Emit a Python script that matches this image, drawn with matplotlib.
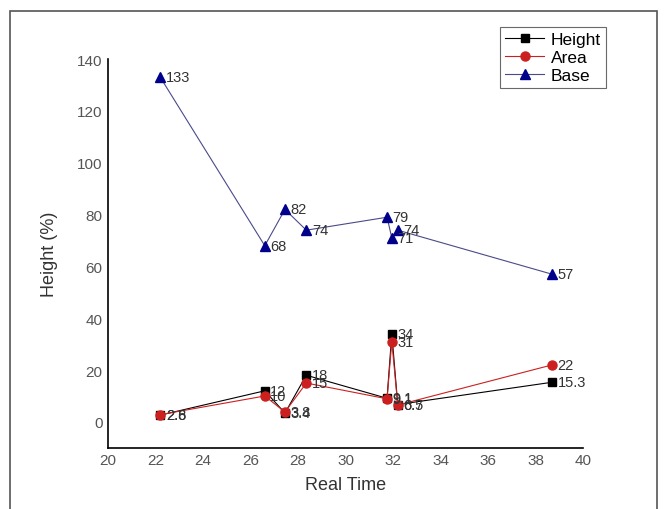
import matplotlib.pyplot as plt
from matplotlib.patches import Rectangle

plt.rcParams['font.family'] = ['Liberation Sans', 'DejaVu Sans']

# ---------------- data ----------------
real_time = [22.2, 26.6, 27.45, 28.35, 31.75, 31.95, 32.2, 38.7]
height = [2.6, 12, 3.4, 18, 9.1, 34, 6.7, 15.3]
area = [2.8, 10, 3.8, 15, 8.9, 31, 6.5, 22]
base = [133, 68, 82, 74, 79, 71, 74, 57]

height_labels = ['2.6', '12', '3.4', '18', '9.1', '34', '6.7', '15.3']
area_labels = ['2.8', '10', '3.8', '15', '9.1', '31', '6.5', '22']
base_labels = ['133', '68', '82', '74', '79', '71', '74', '57']

x_ticks = [20, 22, 24, 26, 28, 30, 32, 34, 36, 38, 40]
y_ticks = [0, 20, 40, 60, 80, 100, 120, 140]

# ---------------- plot ----------------
fig = plt.figure(figsize=(6.67, 5.1), dpi=100)
ax = fig.add_axes([0.162, 0.12, 0.712, 0.762])

ax.plot(real_time, height, color='black', lw=0.8, marker='s', ms=5.5,
        mfc='black', mec='black', label='Height')
ax.plot(real_time, area, color='#cc2020', lw=0.8, marker='o', ms=6.5,
        mfc='#cc2020', mec='#cc2020', label='Area')
ax.plot(real_time, base, color='#4a4a8a', lw=0.8, marker='^', ms=7.5,
        mfc='#00008b', mec='#00008b', label='Base')

# value labels to the right of each marker
for series, labels in [(height, height_labels), (area, area_labels), (base, base_labels)]:
    for xv, yv, txt in zip(real_time, series, labels):
        ax.annotate(txt, (xv, yv), xytext=(4, 0), textcoords='offset points',
                    va='center', ha='left', fontsize=10.5, color='#333333')

ax.set_xlim(20, 40)
ax.set_ylim(-10, 140)
ax.set_xticks(x_ticks)
ax.set_yticks(y_ticks)
ax.tick_params(length=0, labelsize=11, labelcolor='#555555', pad=4)

for side in ['top', 'right']:
    ax.spines[side].set_visible(False)
for side in ['left', 'bottom']:
    ax.spines[side].set_linewidth(1.2)

ax.set_xlabel('Real Time', fontsize=13, color='#333333', labelpad=6)
ax.set_ylabel('Height (%)', fontsize=13, color='#333333', labelpad=14)

leg = fig.legend(loc='upper left', bbox_to_anchor=(0.737, 0.962), fontsize=12.5,
                 frameon=True, fancybox=False, edgecolor='#444444',
                 handlelength=2.2, borderpad=0.3, labelspacing=0.15,
                 handletextpad=0.4)
leg.get_frame().set_linewidth(0.8)

# outer frame around the figure
fig.add_artist(Rectangle((10 / 667, -0.05), 647 / 667, 1.05 - 12 / 510,
                         transform=fig.transFigure, fill=False,
                         edgecolor='#555555', lw=1.2))

fig.savefig('out.png', dpi=100)
